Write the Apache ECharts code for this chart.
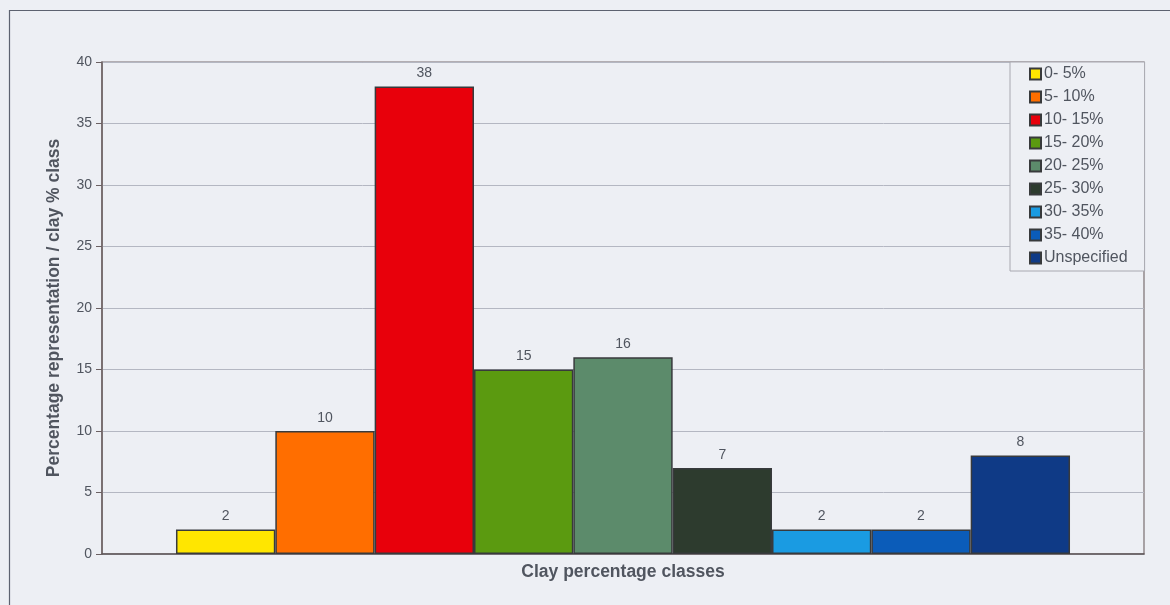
<!DOCTYPE html>
<html>
<head>
<meta charset="utf-8">
<script src="https://cdn.jsdelivr.net/npm/echarts@6/dist/echarts.min.js"></script>
<style>
html,body{margin:0;padding:0;background:#edeff4;}
#c{width:1170px;height:605px;}
</style>
</head>
<body>
<div id="c"></div>
<script>
var classes = ['0- 5%', '5- 10%', '10- 15%', '15- 20%', '20- 25%', '25- 30%', '30- 35%', '35- 40%', 'Unspecified'];
var values = [2, 10, 38, 15, 16, 7, 2, 2, 8];
var colors = ['#ffe600', '#ff6e00', '#e8000b', '#5b9a10', '#5c8b6b', '#2d3b2e', '#1a9be2', '#0b5cb9', '#0f3a86'];
var yTicks = { min: 0, max: 40, interval: 5 };
var yTitle = 'Percentage representation / clay % class';
var xTitle = 'Clay percentage classes';

var chart = echarts.init(document.getElementById('c'), null, { renderer: 'canvas' });
var textColor = '#50555f';
var series = classes.map(function (name, i) {
  return {
    name: name,
    type: 'bar',
    data: [values[i]],
    barGap: '0%',
    barCategoryGap: '14.2%',
    itemStyle: { color: colors[i], borderColor: '#383a3c', borderWidth: 1.5 },
    label: { show: true, position: 'top', distance: 6, color: textColor, fontSize: 14, fontFamily: 'Liberation Sans' }
  };
});
chart.setOption({
  backgroundColor: '#edeff4',
  animation: false,
  textStyle: { fontFamily: 'Liberation Sans' },
  graphic: [{
    type: 'rect', silent: true, z: -1,
    shape: { x: 9.5, y: 10.5, width: 1180, height: 620 },
    style: { fill: 'none', stroke: '#5d6270', lineWidth: 1.2 }
  }],
  grid: { left: 102, right: 26, top: 62, bottom: 51, show: true, borderColor: '#7a6e70', borderWidth: 1.2, backgroundColor: 'transparent' },
  legend: {
    orient: 'vertical', left: 1010, top: 62,
    padding: [4, 17, 5, 19],
    itemWidth: 11, itemHeight: 11, itemGap: 7,
    borderColor: '#a8a8b0', borderWidth: 1, backgroundColor: '#edeff4',
    icon: 'rect',
    textStyle: { color: textColor, fontSize: 16, lineHeight: 16, padding: [0, 0, 0, -2] },
    data: classes
  },
  xAxis: {
    type: 'category', data: [''],
    axisLine: { lineStyle: { color: '#5c5456', width: 1.5 } },
    axisTick: { show: false }, axisLabel: { show: false },
    name: xTitle, nameLocation: 'middle', nameGap: 9,
    nameTextStyle: { color: textColor, fontSize: 17.5, fontWeight: 'bold' }
  },
  yAxis: {
    type: 'value', min: yTicks.min, max: yTicks.max, interval: yTicks.interval,
    axisLine: { show: true, lineStyle: { color: '#6b6062', width: 1.5 } },
    axisTick: { show: true, length: 6, lineStyle: { color: '#6b6062' } },
    axisLabel: { color: textColor, fontSize: 14, margin: 10 },
    splitLine: { lineStyle: { color: '#b4b7c2', width: 1 } },
    name: yTitle, nameLocation: 'middle', nameRotate: 90, nameGap: 39,
    nameTextStyle: { color: textColor, fontSize: 17.5, fontWeight: 'bold' }
  },
  series: series
});
</script>
</body>
</html>
